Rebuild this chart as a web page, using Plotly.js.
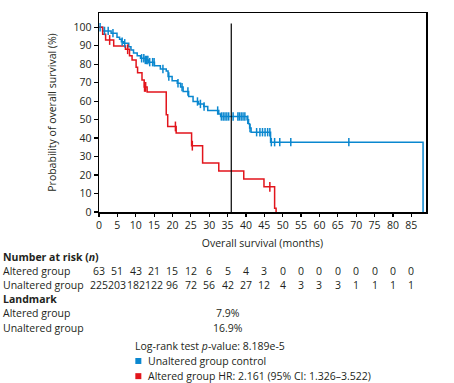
<!DOCTYPE html>
<html>
<head>
<meta charset="utf-8">
<script src="https://cdn.plot.ly/plotly-3.0.1.min.js"></script>
<style>html,body{margin:0;padding:0;background:#fff;}#chart{width:454px;height:383px;}</style>
</head>
<body>
<div id="chart"></div>
<script>
// ---- data ----
const unalteredTimes = [0, 1.0, 3.3, 4.9, 5.6, 6.1, 6.7, 8.1, 8.7, 9.4, 10.4, 11.3, 12.6, 13.5, 15.1, 16.7, 18.3, 18.8, 19.9, 21.3, 22.2, 22.9, 24.4, 25.6, 27.1, 28.5, 29.6, 32.6, 33.1, 40.3, 40.7, 41.0, 41.4, 46.7, 88.2];
const unalteredSurv  = [100, 98.0, 96.8, 94.6, 93.5, 92.2, 91.3, 89.5, 87.7, 86.0, 84.6, 83.2, 82.3, 81.1, 79.2, 77.4, 76.3, 73.3, 71.0, 69.7, 67.6, 65.2, 62.5, 59.8, 58.5, 57.1, 54.9, 53.1, 51.7, 49.9, 47.7, 45.4, 43.2, 37.8, 0];
const unalteredCensor = [0.3, 1.5, 2.5, 3.8, 6.3, 7.0, 11.6, 12.2, 12.6, 13.0, 13.3, 13.8, 14.6, 15.0, 17.4, 19.0, 21.5, 22.6, 24.2, 26.8, 27.6, 28.6, 32.3, 33.3, 33.8, 34.3, 34.8, 35.3, 36.5, 37.8, 38.2, 38.7, 39.2, 39.7, 40.5, 41.1, 42.9, 43.8, 44.5, 45.2, 45.9, 46.5, 46.9, 47.8, 49.2, 52.2, 68.0];

const alteredTimes = [0, 1.0, 1.8, 4.0, 7.2, 8.3, 9.0, 10.1, 10.5, 11.7, 12.3, 13.1, 18.3, 18.7, 21.0, 25.2, 28.2, 32.6, 39.4, 44.9, 47.8, 48.2];
const alteredSurv  = [100, 96.2, 93.1, 89.9, 88.1, 84.5, 82.2, 78.4, 75.3, 71.5, 67.7, 65.0, 52.6, 46.3, 42.7, 35.9, 26.5, 22.2, 17.8, 13.6, 2.0, 0];
const alteredCensor = [2.9, 7.8, 12.4, 12.7, 20.8, 25.4, 46.5];

const xTickVals = [0,5,10,15,20,25,30,35,40,45,50,55,60,65,70,75,80,85];
const alteredAtRisk   = [63,51,43,21,15,12,6,5,4,3,0,0,0,0,0,0,0,0];
const unalteredAtRisk = [225,203,182,122,96,72,56,42,27,12,4,3,3,3,1,1,1,1];

const landmarkTime = 36;
const landmarkAltered = "7.9%";
const landmarkUnaltered = "16.9%";
const pValueText = "Log-rank test <i>p</i>-value: 8.189e-5";
const legendUnaltered = "Unaltered group control";
const legendAltered = "Altered group HR: 2.161 (95% CI: 1.326–3.522)";

// ---- helpers ----
const BLUE = "#0a87cf", RED = "#e2151c", TXT = "#231f20";
const FONT = "Open Sans, Noto Sans, sans-serif";
function survAt(times, surv, t) {
  let v = surv[0];
  for (let i = 0; i < times.length; i++) { if (times[i] <= t) v = surv[i]; }
  return v;
}

// pixel geometry of plot area
const W = 454, H = 383;
const L = 99, R = 425.7, T = 13, B = 212.3;
const px = x => (x - L) / (R - L);
const py = y => (B - y) / (B - T);

const traces = [
  {x: unalteredTimes, y: unalteredSurv, mode: "lines", line: {shape: "hv", color: BLUE, width: 1.5}, hoverinfo: "skip"},
  {x: alteredTimes, y: alteredSurv, mode: "lines", line: {shape: "hv", color: RED, width: 1.5}, hoverinfo: "skip"},
  {x: unalteredCensor, y: unalteredCensor.map(t => survAt(unalteredTimes, unalteredSurv, t)), mode: "markers",
   marker: {symbol: "line-ns-open", size: 6, color: BLUE, line: {color: BLUE, width: 1.5}}, hoverinfo: "skip"},
  {x: alteredCensor, y: alteredCensor.map(t => survAt(alteredTimes, alteredSurv, t)), mode: "markers",
   marker: {symbol: "line-ns-open", size: 7, color: RED, line: {color: RED, width: 1.5}}, hoverinfo: "skip"}
];

const ann = [];
const f = (extra) => Object.assign({family: FONT, size: 10.5, color: TXT}, extra || {});
function leftText(text, xPx, yPx, bold) {
  ann.push({text: bold ? "<b>" + text + "</b>" : text, xref: "paper", yref: "paper", x: px(xPx), y: py(yPx),
            xanchor: "left", yanchor: "middle", showarrow: false, font: f(), borderpad: 0});
}
leftText("Number at risk (<i>n</i>)", 2, 257.7, true);
leftText("Altered group", 2, 271);
leftText("Unaltered group", 2, 285);
xTickVals.forEach((t, i) => {
  ann.push({text: String(alteredAtRisk[i]), xref: "x", yref: "paper", x: t, y: py(271), xanchor: "center", yanchor: "middle", showarrow: false, font: f(), borderpad: 0});
  ann.push({text: String(unalteredAtRisk[i]), xref: "x", yref: "paper", x: t, y: py(285), xanchor: "center", yanchor: "middle", showarrow: false, font: f(), borderpad: 0});
});
leftText("Landmark", 2, 299, true);
leftText("Altered group", 2, 313.3);
leftText("Unaltered group", 2, 328.3);
ann.push({text: landmarkAltered, xref: "paper", yref: "paper", x: px(227.7), y: py(313.3), xanchor: "center", yanchor: "middle", showarrow: false, font: f(), borderpad: 0});
ann.push({text: landmarkUnaltered, xref: "paper", yref: "paper", x: px(227.7), y: py(328.3), xanchor: "center", yanchor: "middle", showarrow: false, font: f(), borderpad: 0});
leftText(pValueText, 134, 346.7);
leftText(legendUnaltered, 146.5, 361.7);
leftText(legendAltered, 146.5, 376.7);

const shapes = [
  {type: "line", xref: "x", yref: "y", x0: landmarkTime, x1: landmarkTime, y0: 0, y1: 102, line: {color: "#000", width: 1.2}},
  {type: "rect", xref: "paper", yref: "paper", x0: px(135.3), x1: px(141.3), y0: py(364.5), y1: py(358.5), fillcolor: BLUE, line: {width: 0}},
  {type: "rect", xref: "paper", yref: "paper", x0: px(135.3), x1: px(141.3), y0: py(379.7), y1: py(373.7), fillcolor: RED, line: {width: 0}}
];

const layout = {
  width: W, height: H,
  margin: {l: L, r: W - R, t: T, b: H - B, pad: 0},
  paper_bgcolor: "#fff", plot_bgcolor: "#fff",
  showlegend: false,
  font: {family: FONT, size: 10.5, color: TXT},
  xaxis: {range: [0, 89], tickvals: xTickVals, ticktext: xTickVals.map(String), ticks: "outside", ticklen: 3, tickwidth: 1.2, tickcolor: "#000",
          showline: true, linecolor: "#000", linewidth: 1.5, mirror: true, showgrid: false, zeroline: false,
          tickfont: {family: FONT, size: 10.5, color: TXT},
          title: {text: "Overall survival (months)", font: {family: FONT, size: 10.5, color: TXT}, standoff: 8}},
  yaxis: {range: [0, 107.7], tickvals: [0,10,20,30,40,50,60,70,80,90,100], ticks: "outside", ticklen: 4, tickwidth: 1.2, tickcolor: "#000",
          showline: true, linecolor: "#000", linewidth: 1.5, mirror: true, showgrid: false, zeroline: false,
          tickfont: {family: FONT, size: 10.5, color: TXT},
          title: {text: "Probability of overall survival (%)", font: {family: FONT, size: 10.5, color: TXT}, standoff: 14}},
  annotations: ann,
  shapes: shapes
};

Plotly.newPlot("chart", traces, layout, {staticPlot: true, displayModeBar: false});
</script>
</body>
</html>
